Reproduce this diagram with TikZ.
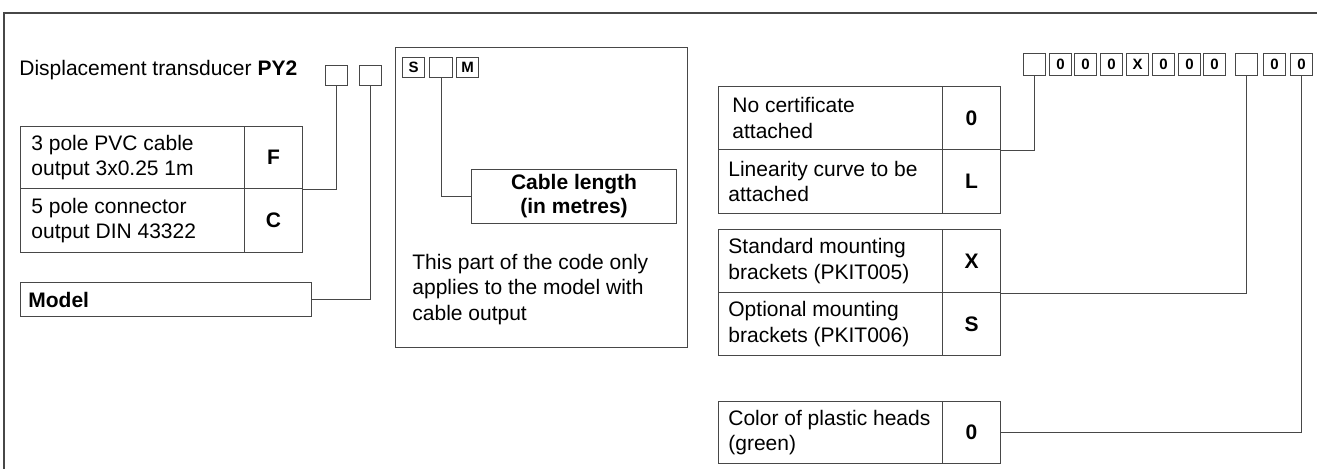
\documentclass[tikz,border=0pt]{standalone}
\usepackage{fontspec}
\setmainfont{Liberation Sans}
\begin{document}
\begin{tikzpicture}[x=0.5pt,y=-0.5pt,
  ln/.style={draw=black!72, line width=0.55pt},
  txt/.style={font=\fontsize{10.5}{12.6}\selectfont},
  cell/.style={ln, anchor=north west, inner sep=0pt, minimum width=112pt},
  ctext/.style={txt, anchor=west, inner sep=0pt, align=left},
  let/.style={ln, anchor=north west, inner sep=0pt, minimum width=29pt, font=\fontsize{10.5}{12.6}\selectfont\bfseries},
  cbox/.style={ln, anchor=north west, inner sep=0pt, minimum width=11pt, minimum height=10pt, font=\fontsize{7.5}{8}\selectfont\bfseries},
  rbox/.style={cbox, minimum height=11pt},
  conn/.style={draw=black!72, line width=0.55pt}]
\useasboundingbox (0,0) rectangle (1317,469);
% outer frame
\draw[ln] (1317,13) -- (4,13) -- (4,469);

% title
\node[font=\fontsize{10.5}{13}\selectfont, anchor=base west, inner sep=0pt] (title) at (19,76) {Displacement transducer \textbf{PY2}};
\node[cbox] (lb1) at (325,65) {};
\node[cbox] (lb2) at (359,65) {};

% left table
\node[cell, minimum height=31pt] (c1) at (20,126) {};
\node[ctext] (c1t) at ([xshift=5.5pt]c1.west) {3 pole PVC cable\\output 3x0.25 1m};
\node[let, minimum height=31pt] (F) at (244,126) {F};
\node[cell, minimum height=32pt] (c2) at (20,188) {};
\node[ctext] (c2t) at ([xshift=5.5pt]c2.west) {5 pole connector\\output DIN 43322};
\node[let, minimum height=32pt] (C) at (244,188) {C};

% model
\node[cell, minimum width=145.5pt, minimum height=17pt] (model) at (20,282) {};
\node[ctext, font=\fontsize{10.5}{12.6}\selectfont\bfseries] (modelt) at ([xshift=4pt]model.west) {Model};

% middle part
\node[ln, anchor=north west, inner sep=0pt, minimum width=146pt, minimum height=150pt] (mid) at (395,47) {};
\node[cbox] (ms) at (402,57) {S};
\node[cbox, minimum width=11.5pt] (mb) at (429,57) {};
\node[cbox] (mm) at (456,57) {M};
\node[ln, anchor=north west, inner sep=0pt, minimum width=102.5pt, minimum height=27pt, align=center, font=\fontsize{10.5}{12}\selectfont\bfseries] (cable) at (471,169) {Cable length\\(in metres)};
\node[txt, anchor=north west, inner sep=0pt, align=left] (note) at (412,254) {This part of the code only\\applies to the model with\\cable output};

% right code boxes
\node[rbox] (r1) at (1023,53) {};
\node[rbox] (r2) at (1049,53) {0};
\node[rbox] (r3) at (1074,53) {0};
\node[rbox] (r4) at (1100,53) {0};
\node[rbox] (r5) at (1126,53) {X};
\node[rbox] (r6) at (1152,53) {0};
\node[rbox] (r7) at (1178,53) {0};
\node[rbox] (r8) at (1203,53) {0};
\node[rbox] (r9) at (1235,53) {};
\node[rbox] (r10) at (1263,53) {0};
\node[rbox] (r11) at (1290,53) {0};

% right tables
\node[cell, minimum height=31.5pt] (t1) at (718,86) {};
\node[ctext] (t1t) at ([xshift=7pt]t1.west) {No certificate\\attached};
\node[let, minimum height=31.5pt] (t1v) at (942,86) {0};
\node[cell, minimum height=32pt] (t2) at (718,149) {};
\node[ctext] (t2t) at ([xshift=5pt]t2.west) {Linearity curve to be\\attached};
\node[let, minimum height=32pt] (t2v) at (942,149) {L};

\node[cell, minimum height=31.5pt] (t3) at (718,229) {};
\node[ctext] (t3t) at ([xshift=5pt]t3.west) {Standard mounting\\brackets (PKIT005)};
\node[let, minimum height=31.5pt] (t3v) at (942,229) {X};
\node[cell, minimum height=31.5pt] (t4) at (718,292) {};
\node[ctext] (t4t) at ([xshift=5pt]t4.west) {Optional mounting\\brackets (PKIT006)};
\node[let, minimum height=31.5pt] (t4v) at (942,292) {S};

\node[cell, minimum height=31pt] (t5) at (718,401) {};
\node[ctext] (t5t) at ([xshift=5pt]t5.west) {Color of plastic heads\\(green)};
\node[let, minimum height=31pt] (t5v) at (942,401) {0};

% connectors
\draw[conn] (lb1.south) |- (F.south east);
\draw[conn] (lb2.south) |- (model.east);
\draw[conn] (mb.south) |- (cable.west);
\draw[conn] (r1.south) |- (t1v.south east);
\draw[conn] (r9.south) |- (t3v.south east);
\draw[conn] (r11.south) |- (t5v.east);
\end{tikzpicture}
\end{document}
